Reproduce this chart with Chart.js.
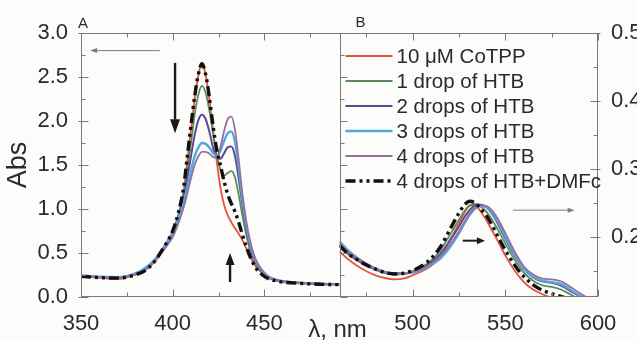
<!DOCTYPE html>
<html>
<head>
<meta charset="utf-8">
<script src="https://cdn.jsdelivr.net/npm/chart.js@4/dist/chart.umd.min.js"></script>
<style>
  html, body { margin: 0; padding: 0; background: #fcfcfa; overflow: hidden; }
  #wrap { position: relative; width: 637px; height: 340px; }
</style>
</head>
<body>
<div id="wrap"><canvas id="spectra" width="637" height="340"></canvas></div>
<script>
// Panel A: Soret band, left axis
const nmA = [350, 360, 370, 380, 385, 390, 395, 400, 403, 406, 408, 410, 412, 414, 416, 418, 420, 422, 424, 426, 428, 430, 432, 434, 436, 438, 440, 442, 444, 446, 449, 452, 456, 460, 470, 480, 491];
const cotppA = [0.24, 0.22, 0.205, 0.26, 0.31, 0.4, 0.55, 0.72, 0.92, 1.2, 1.55, 1.9, 2.25, 2.52, 2.66, 2.52, 2.25, 1.9, 1.55, 1.25, 1.05, 0.93, 0.85, 0.78, 0.72, 0.65, 0.56, 0.47, 0.39, 0.33, 0.27, 0.22, 0.19, 0.17, 0.155, 0.145, 0.14];
const drop1A = [0.24, 0.225, 0.22, 0.26, 0.31, 0.41, 0.56, 0.74, 0.92, 1.18, 1.45, 1.75, 2.07, 2.3, 2.4, 2.32, 2.12, 1.86, 1.62, 1.45, 1.38, 1.41, 1.43, 1.36, 1.16, 0.93, 0.72, 0.55, 0.43, 0.35, 0.27, 0.22, 0.19, 0.175, 0.16, 0.15, 0.145];
const drop2A = [0.24, 0.225, 0.22, 0.26, 0.31, 0.41, 0.56, 0.73, 0.9, 1.12, 1.35, 1.6, 1.84, 2.01, 2.07, 2.02, 1.88, 1.7, 1.58, 1.57, 1.63, 1.7, 1.71, 1.6, 1.35, 1.05, 0.8, 0.6, 0.46, 0.37, 0.28, 0.23, 0.195, 0.178, 0.16, 0.15, 0.145];
const drop3A = [0.245, 0.23, 0.225, 0.27, 0.33, 0.42, 0.56, 0.72, 0.88, 1.08, 1.25, 1.43, 1.6, 1.7, 1.75, 1.74, 1.7, 1.64, 1.6, 1.66, 1.77, 1.86, 1.88, 1.76, 1.47, 1.12, 0.84, 0.63, 0.48, 0.38, 0.29, 0.23, 0.2, 0.18, 0.16, 0.15, 0.145];
const drop4A = [0.24, 0.225, 0.22, 0.26, 0.31, 0.4, 0.53, 0.68, 0.83, 1.02, 1.18, 1.35, 1.5, 1.6, 1.65, 1.65, 1.63, 1.59, 1.58, 1.7, 1.88, 2.02, 2.05, 1.9, 1.56, 1.18, 0.88, 0.66, 0.5, 0.4, 0.3, 0.24, 0.2, 0.18, 0.16, 0.15, 0.145];
const dmfcA = [0.235, 0.22, 0.215, 0.255, 0.3, 0.4, 0.56, 0.75, 0.95, 1.25, 1.6, 1.95, 2.28, 2.53, 2.65, 2.53, 2.27, 1.95, 1.68, 1.5, 1.32, 1.17, 1.06, 0.97, 0.85, 0.71, 0.58, 0.47, 0.38, 0.31, 0.25, 0.21, 0.185, 0.17, 0.155, 0.145, 0.14];

// Panel B: Q band, right axis
const nmB = [460.5, 465, 470, 475, 480, 485, 490, 495, 500, 505, 510, 515, 520, 525, 528, 531, 534, 537, 540, 543, 546, 550, 555, 560, 565, 570, 575, 580, 585, 590, 595, 600];
const cotppB = [0.178, 0.167, 0.157, 0.149, 0.143, 0.139, 0.137, 0.138, 0.143, 0.149, 0.157, 0.171, 0.194, 0.22, 0.236, 0.246, 0.245, 0.236, 0.223, 0.208, 0.193, 0.172, 0.15, 0.133, 0.122, 0.115, 0.11, 0.107, 0.105, 0.103, 0.102, 0.1];
const drop1B = [0.186, 0.174, 0.165, 0.157, 0.151, 0.146, 0.144, 0.145, 0.149, 0.155, 0.165, 0.18, 0.202, 0.225, 0.238, 0.246, 0.248, 0.244, 0.236, 0.224, 0.21, 0.19, 0.166, 0.147, 0.135, 0.128, 0.126, 0.122, 0.115, 0.108, 0.103, 0.1];
const drop2B = [0.188, 0.176, 0.166, 0.158, 0.152, 0.147, 0.145, 0.145, 0.148, 0.153, 0.162, 0.175, 0.194, 0.215, 0.229, 0.24, 0.246, 0.247, 0.243, 0.233, 0.219, 0.197, 0.172, 0.152, 0.14, 0.134, 0.132, 0.128, 0.12, 0.112, 0.105, 0.1];
const drop3B = [0.193, 0.18, 0.169, 0.16, 0.153, 0.148, 0.146, 0.146, 0.147, 0.151, 0.158, 0.168, 0.184, 0.205, 0.22, 0.233, 0.242, 0.245, 0.243, 0.235, 0.222, 0.2, 0.174, 0.153, 0.141, 0.135, 0.133, 0.13, 0.122, 0.113, 0.106, 0.1];
const drop4B = [0.19, 0.178, 0.168, 0.16, 0.153, 0.148, 0.146, 0.146, 0.148, 0.152, 0.16, 0.171, 0.188, 0.208, 0.222, 0.235, 0.243, 0.246, 0.245, 0.238, 0.226, 0.205, 0.178, 0.156, 0.144, 0.138, 0.137, 0.134, 0.126, 0.117, 0.109, 0.103];
const dmfcB = [0.187, 0.175, 0.166, 0.158, 0.152, 0.147, 0.145, 0.146, 0.15, 0.157, 0.168, 0.185, 0.21, 0.235, 0.247, 0.252, 0.249, 0.24, 0.23, 0.216, 0.2, 0.18, 0.158, 0.141, 0.129, 0.121, 0.116, 0.112, 0.108, 0.105, 0.103, 0.1];

const seriesLabels = ['10 \u03bcM CoTPP', '1 drop of HTB', '2 drops of HTB', '3 drops of HTB', '4 drops of HTB', '4 drops of HTB+DMFc'];
const seriesA = [cotppA, drop1A, drop2A, drop3A, drop4A, dmfcA];
const seriesB = [cotppB, drop1B, drop2B, drop3B, drop4B, dmfcB];

// arrows in data units: [x1, y1, x2, y2]
const arrowsA = [[393, 2.8, 355, 2.8], [401.3, 2.66, 401.3, 1.86], [431.3, 0.17, 431.3, 0.5]];
const arrowsB = [[554, 0.239, 587.4, 0.239], [527, 0.194, 539, 0.194]];

const colors = ['#e8533f', '#5b8c5b', '#5a4a94', '#52a9e0', '#9a6f9c', '#111111'];
const widths = [1.8, 1.8, 2, 2.4, 1.8, 3.4];
const dashes = [[], [], [], [], [], [10, 4, 3, 4, 3, 4]];

Chart.defaults.font.family = '"Liberation Sans", Arial, sans-serif';
Chart.defaults.color = '#2a2a2a';

function makeSet(xs, ys, i, xAxisID, yAxisID) {
  return {
    label: seriesLabels[i],
    data: xs.map((x, k) => ({x: x, y: ys[k]})),
    borderColor: colors[i],
    borderWidth: widths[i],
    borderDash: dashes[i],
    pointRadius: 0,
    fill: false,
    cubicInterpolationMode: 'monotone',
    borderJoinStyle: 'round',
    order: i === 5 ? 0 : 6 - i,
    xAxisID: xAxisID,
    yAxisID: yAxisID
  };
}

const datasets = [];
seriesA.forEach((ys, i) => datasets.push(makeSet(nmA, ys, i, 'x', 'y')));
seriesB.forEach((ys, i) => datasets.push(makeSet(nmB, ys, i, 'x2', 'y2')));

function line(ctx, x1, y1, x2, y2) {
  ctx.beginPath();
  ctx.moveTo(x1, y1);
  ctx.lineTo(x2, y2);
  ctx.stroke();
}

function arrow(ctx, x1, y1, x2, y2, width, color, headLen, headW) {
  const ang = Math.atan2(y2 - y1, x2 - x1);
  const bx = x2 - headLen * Math.cos(ang), by = y2 - headLen * Math.sin(ang);
  ctx.strokeStyle = color;
  ctx.fillStyle = color;
  ctx.lineWidth = width;
  line(ctx, x1, y1, bx, by);
  ctx.beginPath();
  ctx.moveTo(x2, y2);
  ctx.lineTo(bx + headW * Math.sin(ang), by - headW * Math.cos(ang));
  ctx.lineTo(bx - headW * Math.sin(ang), by + headW * Math.cos(ang));
  ctx.closePath();
  ctx.fill();
}

function tickValues(s, step) {
  const out = [];
  for (let k = Math.ceil(s.min / step - 1e-9); k * step <= s.max + 1e-9; k++) out.push(k * step);
  return out;
}

const decor = {
  id: 'decor',
  afterDatasetsDraw(chart) {
    const {ctx, chartArea: a, scales} = chart;
    const xA = scales.x, xB = scales.x2, yA = scales.y, yB = scales.y2;
    const split = Math.round(xA.right) + 0.5;
    const L = Math.round(a.left) + 0.5, R = Math.round(a.right) - 0.5;
    const T = Math.round(a.top) + 0.5, B = Math.round(a.bottom) - 0.5;
    ctx.save();
    ctx.strokeStyle = '#7a7a7a';
    ctx.lineWidth = 1;
    ctx.strokeRect(L, T, R - L, B - T);
    line(ctx, split, T, split, B);

    // inward ticks on the x axes, top and bottom
    [[xA, 25, 50], [xB, 25, 50]].forEach(([s, minor, major]) => {
      tickValues(s, minor).forEach(v => {
        const p = Math.round(s.getPixelForValue(v)) + 0.5;
        const isMajor = Math.abs(v / major - Math.round(v / major)) < 1e-6;
        const len = isMajor ? 7 : 4;
        line(ctx, p, B, p, B - len);
        line(ctx, p, T, p, T + len);
      });
    });
    // left axis ticks, mirrored on the panel split
    tickValues(yA, 0.25).forEach(v => {
      const p = Math.round(yA.getPixelForValue(v)) + 0.5;
      const isMajor = Math.abs(v / 0.5 - Math.round(v / 0.5)) < 1e-6;
      const len = isMajor ? 7 : 4;
      line(ctx, L - (isMajor ? 3 : 0), p, L + len, p);
      line(ctx, split, p, split + len, p);
    });
    // right axis ticks
    tickValues(yB, 0.05).forEach(v => {
      const p = Math.round(yB.getPixelForValue(v)) + 0.5;
      const isMajor = Math.abs(v / 0.1 - Math.round(v / 0.1)) < 1e-6;
      const len = isMajor ? 7 : 4;
      line(ctx, R - len, p, R + (isMajor ? 3 : 0), p);
    });

    // arrows
    const styles = [['#7a7a7a', 1, 7, 2.5], ['#1a1a1a', 2.4, 14, 5], ['#1a1a1a', 2.4, 12, 4.5]];
    arrowsA.forEach((d, i) => {
      const st = styles[i];
      arrow(ctx, xA.getPixelForValue(d[0]), yA.getPixelForValue(d[1]), xA.getPixelForValue(d[2]), yA.getPixelForValue(d[3]), st[1], st[0], st[2], st[3]);
    });
    const stylesB = [['#8a7a80', 1, 7, 2.5], ['#1a1a1a', 2, 8, 3.5]];
    arrowsB.forEach((d, i) => {
      const st = stylesB[i];
      arrow(ctx, xB.getPixelForValue(d[0]), yB.getPixelForValue(d[1]), xB.getPixelForValue(d[2]), yB.getPixelForValue(d[3]), st[1], st[0], st[2], st[3]);
    });

    // legend inside panel B
    const lx = split + 5, ly = a.top + 23, rowH = 25;
    ctx.font = '20.5px "Liberation Sans", Arial, sans-serif';
    ctx.textBaseline = 'middle';
    ctx.textAlign = 'left';
    seriesLabels.forEach((lab, i) => {
      const y = ly + i * rowH;
      ctx.strokeStyle = colors[i];
      ctx.lineWidth = widths[i];
      ctx.setLineDash(dashes[i]);
      line(ctx, lx, y, lx + 47, y);
      ctx.setLineDash([]);
      ctx.fillStyle = '#2a2a2a';
      ctx.fillText(lab, lx + 51, y + 1);
    });

    // panel letters and shared x title
    ctx.fillStyle = '#2a2a2a';
    ctx.textBaseline = 'alphabetic';
    ctx.font = '15px "Liberation Sans", Arial, sans-serif';
    ctx.fillText('A', a.left - 3, a.top - 5);
    ctx.fillText('B', split + 15, a.top - 6);
    ctx.font = '24px "Liberation Sans", Arial, sans-serif';
    ctx.textAlign = 'center';
    ctx.fillText('\u03bb, nm', split - 3, 337);
    ctx.restore();
  }
};

const tickFont = {size: 22};

new Chart(document.getElementById('spectra').getContext('2d'), {
  type: 'line',
  data: {datasets: datasets},
  options: {
    responsive: false,
    animation: false,
    devicePixelRatio: 1,
    layout: {padding: {top: 33, left: 0, right: 0, bottom: 0}},
    plugins: {legend: {display: false}, tooltip: {enabled: false}},
    scales: {
      x: {
        type: 'linear', position: 'bottom', stack: 'nm', stackWeight: 1,
        min: 350, max: 491,
        grid: {display: false}, border: {display: false},
        ticks: {stepSize: 50, includeBounds: false, maxRotation: 0, padding: 6, font: tickFont},
        afterFit: s => { s.height = 43; }
      },
      x2: {
        type: 'linear', position: 'bottom', stack: 'nm', stackWeight: 1,
        min: 460.5, max: 600,
        grid: {display: false}, border: {display: false},
        ticks: {stepSize: 50, includeBounds: false, maxRotation: 0, padding: 6, font: tickFont},
        afterFit: s => { s.height = 43; }
      },
      y: {
        type: 'linear', position: 'left', min: 0, max: 3,
        grid: {display: false}, border: {display: false},
        ticks: {stepSize: 0.5, padding: 5, font: tickFont, callback: v => v.toFixed(1)},
        title: {display: true, text: 'Abs', font: {size: 27}, padding: {top: 2, bottom: 0}},
        afterFit: s => { s.width = 81; }
      },
      y2: {
        type: 'linear', position: 'right', min: 0.111, max: 0.5,
        grid: {display: false}, border: {display: false},
        ticks: {stepSize: 0.1, includeBounds: false, padding: 5, font: tickFont, callback: v => v.toFixed(1)},
        afterFit: s => { s.width = 39; }
      }
    }
  },
  plugins: [decor]
});
</script>
</body>
</html>
